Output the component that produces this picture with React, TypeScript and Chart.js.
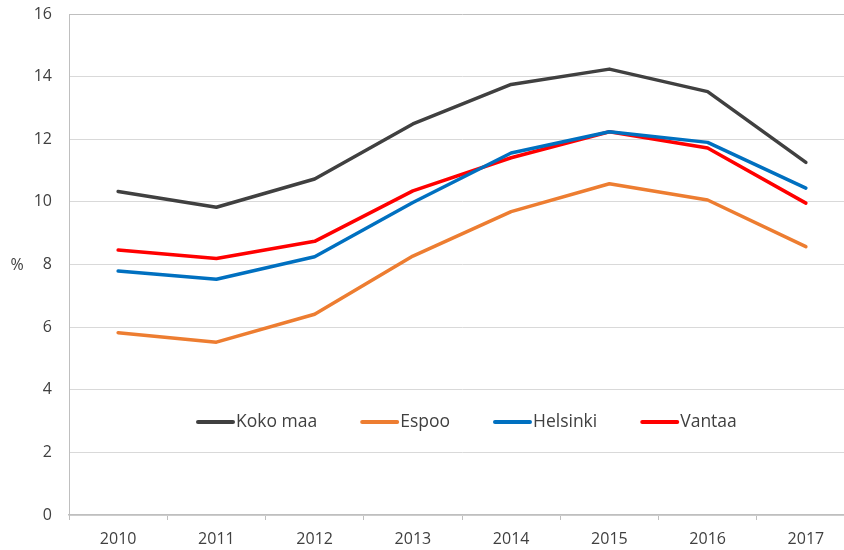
import React, { useEffect, useRef } from "react";
import { Chart, registerables } from "chart.js";

Chart.register(...registerables);

const years = ["2010", "2011", "2012", "2013", "2014", "2015", "2016", "2017"];
const seriesNames = ["Koko maa", "Espoo", "Helsinki", "Vantaa"];
const kokoMaa = [10.33, 9.83, 10.73, 12.49, 13.75, 14.24, 13.52, 11.26];
const espoo = [5.82, 5.52, 6.41, 8.27, 9.69, 10.58, 10.06, 8.57];
const helsinki = [7.79, 7.53, 8.25, 9.98, 11.56, 12.24, 11.9, 10.44];
const vantaa = [8.46, 8.19, 8.74, 10.35, 11.41, 12.24, 11.72, 9.96];
const colors = ["#404040", "#ED7D31", "#0070C0", "#FF0000"];
const yUnit = "%";

const FONT = "'Open Sans', 'DejaVu Sans', sans-serif";

const overlayPlugin = {
  id: "overlay",
  afterDraw(chart: any) {
    const ctx = chart.ctx;
    const area = chart.chartArea;
    ctx.save();
    // y unit label
    ctx.fillStyle = "#404040";
    ctx.font = `16px ${FONT}`;
    ctx.textAlign = "center";
    ctx.textBaseline = "middle";
    ctx.fillText(yUnit, 17, (area.top + area.bottom) / 2 + 1);
    // legend inside plot
    ctx.font = `17.5px ${FONT}`;
    ctx.textAlign = "left";
    let x = area.left + 128;
    const y = area.top + 408;
    chart.data.datasets.forEach((ds: any) => {
      ctx.strokeStyle = ds.borderColor;
      ctx.lineWidth = 4;
      ctx.lineCap = "round";
      ctx.beginPath();
      ctx.moveTo(x + 1, y);
      ctx.lineTo(x + 36, y);
      ctx.stroke();
      ctx.fillStyle = "#404040";
      ctx.fillText(ds.label, x + 39, y);
      x += 39 + ctx.measureText(ds.label).width + 44;
    });
    ctx.restore();
  },
};

export default function App() {
  const ref = useRef<HTMLCanvasElement | null>(null);
  useEffect(() => {
    if (!ref.current) return;
    const seriesData = [kokoMaa, espoo, helsinki, vantaa];
    const chart = new Chart(ref.current, {
      type: "line",
      data: {
        labels: years,
        datasets: seriesNames.map((name, i) => ({
          label: name,
          data: seriesData[i],
          borderColor: colors[i],
          backgroundColor: colors[i],
          borderWidth: 3.5,
          pointRadius: 0,
          tension: 0,
          borderCapStyle: "round",
          borderJoinStyle: "round",
        })),
      },
      options: {
        responsive: false,
        animation: false,
        layout: { padding: { top: 14, right: 1, left: 0, bottom: 0 } },
        plugins: {
          legend: { display: false },
          tooltip: { enabled: false },
        },
        scales: {
          x: {
            offset: true,
            grid: {
              offset: true,
              drawOnChartArea: false,
              drawTicks: true,
              tickLength: 5,
              color: "#bfbfbf",
            },
            border: { color: "#bfbfbf", width: 1.5 },
            ticks: {
              color: "#404040",
              font: { family: FONT, size: 16 },
              padding: 10,
              maxRotation: 0,
            },
            afterFit(scale: any) {
              scale.height = 35;
              scale.paddingLeft = 0;
              scale.paddingRight = 0;
            },
          },
          y: {
            min: 0,
            max: 16,
            ticks: {
              stepSize: 2,
              color: "#404040",
              font: { family: FONT, size: 16 },
              padding: 17,
            },
            grid: {
              drawTicks: false,
              color: (c: any) => (c.tick && (c.tick.value === 16) ? "#bfbfbf" : "#d9d9d9"),
              lineWidth: 1,
            },
            border: { color: "#bfbfbf", width: 1 },
            afterFit(scale: any) {
              scale.width = 69;
              scale.paddingTop = 0;
              scale.paddingBottom = 0;
            },
          },
        },
      },
      plugins: [overlayPlugin],
    } as any);
    return () => chart.destroy();
  }, []);
  return (
    <div
      style={{
        position: "absolute",
        left: 0,
        top: 0,
        width: 844,
        height: 550,
        overflow: "hidden",
        background: "#ffffff",
      }}
    >
      <canvas ref={ref} width={856} height={550} style={{ display: "block" }} />
    </div>
  );
}
